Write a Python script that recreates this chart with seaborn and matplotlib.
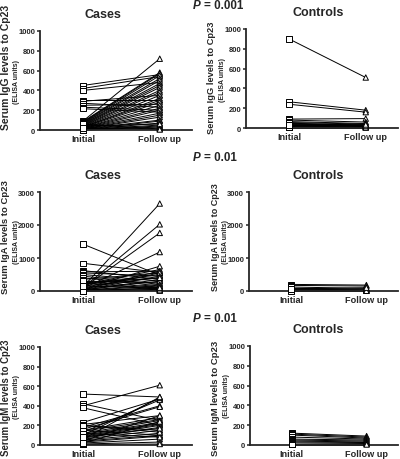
import pandas as pd
import matplotlib.pyplot as plt
import seaborn as sns

sns.set_theme(style="ticks")
plt.rcParams["font.family"] = ["Liberation Sans", "DejaVu Sans"]
plt.rcParams["font.weight"] = "bold"

times = ["Initial", "Follow up"]

# IgG
igg_cases_initial = [450, 420, 400, 300, 290, 270, 250, 230, 215, 90, 85, 80, 75, 70,
                     65, 60, 55, 50, 45, 40, 35, 30, 30, 25, 20, 20, 15, 15, 10, 10,
                     10, 5, 5, 5, 5, 0, 0, 40, 60, 20]
igg_cases_follow = [560, 540, 480, 300, 350, 230, 260, 200, 180, 720, 580, 570, 550, 520,
                    500, 470, 450, 430, 400, 380, 350, 320, 300, 280, 250, 220, 200, 170, 150, 130,
                    100, 90, 70, 50, 40, 30, 20, 60, 10, 5]
igg_controls_initial = [900, 265, 240, 90, 80, 65, 55, 45, 40, 35, 30, 25, 20, 15, 10, 5, 50, 30]
igg_controls_follow = [510, 180, 160, 95, 60, 45, 40, 30, 25, 20, 30, 15, 10, 10, 5, 5, 20, 35]

# IgA
iga_cases_initial = [1420, 840, 620, 580, 550, 500, 450, 400, 350, 300, 250, 200, 180, 150,
                     120, 100, 90, 80, 70, 60, 50, 40, 30, 30, 20, 20, 10, 10, 5, 5,
                     0, 0, 250, 300, 150]
iga_cases_follow = [480, 560, 350, 600, 450, 300, 200, 150, 550, 250, 400, 650, 500, 100,
                    2650, 2020, 1760, 1180, 750, 600, 550, 450, 350, 300, 200, 150, 100, 80, 50, 30,
                    20, 10, 50, 100, 400]
iga_controls_initial = [200, 170, 120, 80, 50, 30, 20, 10, 5, 60]
iga_controls_follow = [180, 150, 80, 60, 40, 20, 15, 10, 5, 100]

# IgM
igm_cases_initial = [520, 420, 400, 380, 230, 210, 200, 180, 160, 150, 140, 130, 120, 110,
                     100, 90, 80, 70, 60, 50, 40, 30, 20, 10, 5, 150, 100, 60, 40, 20,
                     120, 200, 80]
igm_cases_follow = [490, 250, 610, 200, 470, 300, 150, 400, 390, 280, 260, 460, 250, 230,
                    220, 210, 200, 180, 150, 120, 100, 90, 60, 30, 10, 100, 480, 490, 300, 240,
                    80, 130, 170]
igm_controls_initial = [120, 110, 100, 80, 60, 50, 40, 30, 20, 10, 5]
igm_controls_follow = [90, 80, 70, 60, 50, 40, 30, 25, 15, 10, 5]

isotypes = ["IgG", "IgA", "IgM"]
p_values = ["= 0.001", "= 0.01", "= 0.01"]
y_max = [1000, 3000, 1000]
y_ticks = [[0, 200, 400, 600, 800, 1000], [0, 1000, 2000, 3000], [0, 200, 400, 600, 800, 1000]]
panels = [
    [(igg_cases_initial, igg_cases_follow), (igg_controls_initial, igg_controls_follow)],
    [(iga_cases_initial, iga_cases_follow), (iga_controls_initial, iga_controls_follow)],
    [(igm_cases_initial, igm_cases_follow), (igm_controls_initial, igm_controls_follow)],
]

W, H = 400, 460
# pixel boxes of each axes: left, top, right, bottom
boxes = [
    [(40, 32, 192, 131), (246, 30, 398, 129)],
    [(40, 193, 192, 292), (249, 193, 398, 292)],
    [(40, 348, 192, 446), (250, 347, 398, 446)],
]
# y label font size and vertical centre (axes fraction) per panel
label_size = [[7.5, 6.7], [6.8, 6.5], [6.9, 6.8]]
label_y = [[0.64, 0.52], [0.55, 0.55], [0.49, 0.48]]
p_y = [6, 158, 319]


def long_df(initial, follow):
    n = len(initial)
    return pd.DataFrame({
        "subject": list(range(n)) * 2,
        "time": ["Initial"] * n + ["Follow up"] * n,
        "pos": [0] * n + [1] * n,
        "value": list(initial) + list(follow),
    })


fig = plt.figure(figsize=(W / 100, H / 100), dpi=100)

for r in range(3):
    for c in range(2):
        l, t, rr, b = boxes[r][c]
        ax = fig.add_axes([l / W, 1 - b / H, (rr - l) / W, (b - t) / H])
        df = long_df(*panels[r][c])
        sns.lineplot(data=df, x="pos", y="value", units="subject", estimator=None,
                     color="black", lw=0.7, ax=ax, clip_on=False)
        sns.scatterplot(data=df, x="pos", y="value", style="time",
                        markers={"Initial": "s", "Follow up": "^"},
                        color="white", edgecolor="black", linewidth=0.7, s=15,
                        ax=ax, legend=False, clip_on=False, zorder=3)
        ax.set_xlim(-0.56, 1.42)
        ax.set_ylim(0, y_max[r])
        ax.set_yticks(y_ticks[r])
        ax.set_xticks([0, 1])
        ax.set_xticklabels(times)
        ax.tick_params(axis="x", length=0, labelsize=6.6, pad=3)
        ax.tick_params(axis="y", length=2.5, width=1.1, labelsize=5.5, pad=1)
        for lab in ax.get_xticklabels() + ax.get_yticklabels():
            lab.set_fontweight("bold")
        sns.despine(ax=ax)
        for s in ["left", "bottom"]:
            ax.spines[s].set_linewidth(1.3)
        ax.set_xlabel("")
        ax.set_ylabel("")
        wpx = rr - l
        ax.text(-34 / wpx, label_y[r][c], f"Serum {isotypes[r]} levels to Cp23",
                transform=ax.transAxes, rotation=90, ha="center", va="center",
                fontsize=label_size[r][c], fontweight="bold")
        ax.text(-24 / wpx, 0.5, "(ELISA units)", transform=ax.transAxes,
                rotation=90, ha="center", va="center", fontsize=5, fontweight="bold")
        title = "Cases" if c == 0 else "Controls"
        tx = 103 if c == 0 else 318
        ax.text((tx - l) / wpx, 1 + 17 / (b - t), title, transform=ax.transAxes,
                ha="center", va="center", fontsize=9, fontweight="bold")

    fig.text(193 / W, 1 - p_y[r] / H, "P", ha="left", va="center",
             fontsize=8.4, fontweight="bold", fontstyle="italic")
    fig.text(204 / W, 1 - p_y[r] / H, p_values[r], ha="left", va="center",
             fontsize=8.4, fontweight="bold")

fig.savefig("out.png", dpi=100)
